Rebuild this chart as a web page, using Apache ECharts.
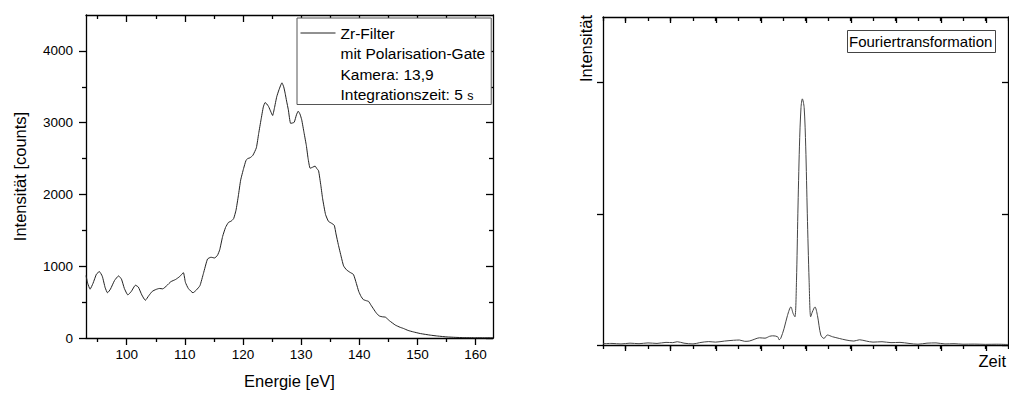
<!DOCTYPE html>
<html>
<head>
<meta charset="utf-8">
<script src="https://cdn.jsdelivr.net/npm/echarts@6/dist/echarts.min.js"></script>
<style>
  html, body { margin: 0; padding: 0; background: #fff; }
  #chart { width: 1009px; height: 394px; }
</style>
</head>
<body>
<div id="chart"></div>
<script>
// ---- Left panel: spectrum ----
const energy = [93.0, 93.3, 93.7, 94.2, 94.8, 95.3, 95.8, 96.3, 96.7, 97.2, 97.9, 98.6, 99.1, 99.6, 100.2, 100.8, 101.5, 102.0, 102.6, 103.2, 103.8, 104.4, 105.0, 105.6, 106.2, 106.9, 107.6, 108.4, 109.1, 109.75, 110.1, 110.6, 111.4, 112.0, 112.6, 113.2, 113.9, 114.5, 115.1, 115.6, 116.0, 116.5, 117.0, 117.5, 118.0, 118.4, 118.8, 119.2, 119.6, 120.1, 120.5, 120.8, 121.2, 121.7, 122.3, 122.7, 123.1, 123.5, 123.8, 124.1, 124.4, 124.8, 125.1, 125.4, 125.8, 126.2, 126.7, 127.0, 127.25, 127.5, 127.8, 128.2, 128.8, 129.2, 129.5, 129.8, 130.1, 130.5, 130.9, 131.2, 131.55, 132.0, 132.4, 132.7, 133.0, 133.4, 133.7, 134.2, 134.7, 135.2, 135.7, 136.0, 136.4, 136.9, 137.3, 137.8, 138.4, 139.0, 139.5, 139.9, 140.3, 140.7, 141.2, 141.6, 142.0, 142.45, 143.0, 143.5, 144.0, 144.5, 145.2, 146.2, 147.0, 147.6, 148.4, 149.3, 150.5, 152.2, 153.5, 155.1, 156.5, 158.0, 160.0, 161.5, 163.0];
const intensity = [870, 760, 680, 760, 890, 925, 860, 700, 630, 680, 800, 865, 820, 690, 600, 650, 735, 710, 600, 525, 590, 650, 675, 690, 685, 730, 785, 815, 855, 910, 775, 690, 630, 670, 730, 900, 1100, 1125, 1115, 1150, 1230, 1415, 1540, 1610, 1630, 1665, 1780, 1980, 2200, 2360, 2470, 2500, 2510, 2545, 2650, 2850, 3040, 3220, 3280, 3260, 3225, 3150, 3100, 3200, 3360, 3460, 3555, 3500, 3410, 3300, 3180, 2990, 3005, 3110, 3160, 3120, 3040, 2860, 2680, 2500, 2365, 2380, 2395, 2360, 2330, 2120, 1940, 1720, 1625, 1600, 1570, 1450, 1300, 1130, 1005, 950, 915, 885, 760, 650, 580, 535, 520, 510, 460, 405, 340, 305, 295, 290, 240, 180, 150, 133, 105, 85, 62, 40, 27, 15, 9, 5, 4, 3, 3];
const energyTicks = [100, 110, 120, 130, 140, 150, 160];
const countTicks = [0, 1000, 2000, 3000, 4000];
const legendLines = ['Zr-Filter', 'mit Polarisation-Gate', 'Kamera: 13,9', 'Integrationszeit: 5 s'];

// ---- Right panel: Fourier transform ----
const zeit = [0.0, 0.4, 0.8, 1.2, 1.6, 2.0, 2.4, 2.8, 3.1, 3.3, 3.6, 4.0, 4.3, 4.7, 5.0, 5.4, 5.8, 6.06, 6.3, 6.5, 6.75, 6.95, 7.2, 7.4, 7.54, 7.76, 7.83, 7.9, 8.05, 8.2, 8.35, 8.45, 8.53, 8.6, 8.66, 8.73, 8.8, 8.86, 8.94, 9.01, 9.08, 9.16, 9.23, 9.3, 9.42, 9.53, 9.68, 9.82, 9.97, 10.2, 10.5, 10.8, 11.15, 11.4, 11.7, 12.0, 12.4, 12.8, 13.2, 13.6, 14.0, 14.4, 14.8, 15.2, 15.6, 16.0, 16.5, 17.0, 17.5, 18.0];
const fourier = [0.010, 0.012, 0.008, 0.014, 0.010, 0.016, 0.012, 0.020, 0.018, 0.025, 0.014, 0.008, 0.018, 0.026, 0.022, 0.030, 0.036, 0.038, 0.028, 0.030, 0.045, 0.055, 0.052, 0.066, 0.070, 0.063, 0.040, 0.051, 0.127, 0.226, 0.290, 0.240, 0.215, 0.494, 1.000, 1.510, 1.810, 1.876, 1.810, 1.510, 1.000, 0.494, 0.215, 0.250, 0.290, 0.226, 0.076, 0.050, 0.076, 0.063, 0.050, 0.038, 0.030, 0.040, 0.030, 0.022, 0.025, 0.018, 0.020, 0.012, 0.006, 0.014, 0.016, 0.008, 0.010, 0.006, 0.007, 0.005, 0.006, 0.004];
const zeitMajorTicks = [1, 3, 5, 7, 9, 11, 13, 15, 17];
const fourierTicks = [0, 1, 2];
const fourierLabel = 'Fouriertransformation';

const FONT = 'Liberation Sans, Arial, Helvetica, sans-serif';
const AX = { color: '#000', width: 1.3 };

const chart = echarts.init(document.getElementById('chart'), null, { renderer: 'svg' });

const spectrumData = energy.map((e, i) => [e, intensity[i]]);
const fourierData = zeit.map((t, i) => [t, fourier[i]]);

function hiddenLabel() { return { show: false }; }
function plain(v) { return String(v); }

const option = {
  animation: false,
  backgroundColor: '#fff',
  textStyle: { fontFamily: FONT },
  title: {
    text: fourierLabel,
    left: 847, top: 30,
    padding: [4, 3, 4, 2],
    borderColor: '#444', borderWidth: 1,
    backgroundColor: '#fff',
    textStyle: { fontFamily: FONT, fontSize: 15, fontWeight: 'normal', color: '#000' }
  },
  legend: {
    orient: 'vertical',
    left: 297, top: 18,
    padding: [7, 6, 2, 3],
    itemWidth: 35, itemHeight: 14, itemGap: 4.5,
    borderColor: '#555', borderWidth: 1,
    backgroundColor: '#fff',
    selectedMode: false,
    lineStyle: { width: 1, color: '#222' },
    data: [
      { name: legendLines[0], itemStyle: { opacity: 0 } },
      { name: legendLines[1], icon: 'none' },
      { name: legendLines[2], icon: 'none' },
      { name: legendLines[3], icon: 'none' }
    ],
    formatter: function (name) {
      if (name === legendLines[3]) {
        return '{a|' + name.slice(0, -1) + '}{b|' + name.slice(-1) + '}';
      }
      return '{a|' + name + '}';
    },
    textStyle: {
      fontFamily: FONT, fontSize: 15.5, color: '#000',
      rich: {
        a: { fontFamily: FONT, fontSize: 15.5, color: '#000' },
        b: { fontFamily: FONT, fontSize: 12.5, color: '#000', verticalAlign: 'bottom' }
      }
    }
  },
  grid: [
    { left: 86, top: 15, width: 407, height: 328, containLabel: false },
    { left: 603, top: 17, width: 407, height: 328, containLabel: false },
    { left: 603, top: 17, width: 407, height: 328, containLabel: false }
  ],
  xAxis: [
    {
      gridIndex: 0, type: 'value', position: 'bottom', min: 93, max: 163,
      name: 'Energie [eV]', nameLocation: 'middle', nameGap: 34,
      nameTextStyle: { fontFamily: FONT, fontSize: 16.5, color: '#000' },
      axisLine: { show: true, onZero: false, lineStyle: AX },
      axisTick: { show: true, inside: false, length: 7, customValues: energyTicks, lineStyle: AX },
      minorTick: { show: true, splitNumber: 2, length: 4, lineStyle: AX },
      axisLabel: { customValues: energyTicks, formatter: plain, margin: 9, fontFamily: FONT, fontSize: 13.5, color: '#000' },
      splitLine: { show: false }
    },
    {
      gridIndex: 0, type: 'value', position: 'top', min: 93, max: 163,
      axisLine: { show: true, onZero: false, lineStyle: AX },
      axisTick: { show: true, inside: true, length: 7, customValues: energyTicks, lineStyle: AX },
      minorTick: { show: true, splitNumber: 2, length: 4, lineStyle: AX },
      axisLabel: hiddenLabel(),
      splitLine: { show: false }
    },
    {
      gridIndex: 1, type: 'value', position: 'bottom', min: 0, max: 18, interval: 1,
      name: 'Zeit', nameLocation: 'end', nameGap: -2,
      nameTextStyle: { fontFamily: FONT, fontSize: 16.5, color: '#000', align: 'right', verticalAlign: 'top', padding: [7, 0, 0, 0] },
      axisLine: { show: true, onZero: false, lineStyle: AX },
      axisTick: { show: true, inside: false, length: 4, lineStyle: AX },
      axisLabel: hiddenLabel(),
      splitLine: { show: false }
    },
    {
      gridIndex: 1, type: 'value', position: 'top', min: 0, max: 18, interval: 1,
      axisLine: { show: true, onZero: false, lineStyle: AX },
      axisTick: { show: true, inside: true, length: 4, lineStyle: AX },
      axisLabel: hiddenLabel(),
      splitLine: { show: false }
    },
    {
      gridIndex: 2, type: 'value', position: 'bottom', min: 0, max: 18,
      axisLine: { show: false },
      axisTick: { show: true, inside: false, length: 6, customValues: zeitMajorTicks, lineStyle: AX },
      axisLabel: hiddenLabel(),
      splitLine: { show: false }
    },
    {
      gridIndex: 2, type: 'value', position: 'top', min: 0, max: 18,
      axisLine: { show: false },
      axisTick: { show: true, inside: true, length: 6, customValues: zeitMajorTicks, lineStyle: AX },
      axisLabel: hiddenLabel(),
      splitLine: { show: false }
    }
  ],
  yAxis: [
    {
      gridIndex: 0, type: 'value', position: 'left', min: 0, max: 4500, interval: 1000,
      name: 'Intensität [counts]', nameLocation: 'middle', nameGap: 58,
      nameTextStyle: { fontFamily: FONT, fontSize: 16.5, color: '#000' },
      axisLine: { show: true, onZero: false, lineStyle: AX },
      axisTick: { show: true, inside: false, length: 7, customValues: countTicks, lineStyle: AX },
      minorTick: { show: true, splitNumber: 2, length: 4, lineStyle: AX },
      axisLabel: { customValues: countTicks, formatter: plain, margin: 13, fontFamily: FONT, fontSize: 13.5, color: '#000' },
      splitLine: { show: false }
    },
    {
      gridIndex: 0, type: 'value', position: 'right', min: 0, max: 4500, interval: 1000,
      axisLine: { show: true, onZero: false, lineStyle: AX },
      axisTick: { show: true, inside: true, length: 7, customValues: countTicks, lineStyle: AX },
      minorTick: { show: true, splitNumber: 2, length: 4, lineStyle: AX },
      axisLabel: hiddenLabel(),
      splitLine: { show: false }
    },
    {
      gridIndex: 1, type: 'value', position: 'left', min: 0, max: 2.5, interval: 1,
      name: 'Intensität', nameLocation: 'end', nameGap: 2, nameRotate: 90,
      nameTextStyle: { fontFamily: FONT, fontSize: 16.5, color: '#000', align: 'right', verticalAlign: 'bottom', padding: [0, 0, 9, 0] },
      axisLine: { show: true, onZero: false, lineStyle: AX },
      axisTick: { show: true, inside: false, length: 6, customValues: fourierTicks, lineStyle: AX },
      axisLabel: hiddenLabel(),
      splitLine: { show: false }
    },
    {
      gridIndex: 1, type: 'value', position: 'right', min: 0, max: 2.5, interval: 1,
      axisLine: { show: true, onZero: false, lineStyle: AX },
      axisTick: { show: true, inside: true, length: 6, customValues: fourierTicks, lineStyle: AX },
      axisLabel: hiddenLabel(),
      splitLine: { show: false }
    },
    {
      gridIndex: 2, type: 'value', min: 0, max: 2.5, show: false
    }
  ],
  series: [
    {
      name: legendLines[0], type: 'line', xAxisIndex: 0, yAxisIndex: 0,
      data: spectrumData, symbol: 'none', smooth: 0.15,
      lineStyle: { color: '#222', width: 1 }, itemStyle: { color: '#222', opacity: 0 }
    },
    { name: legendLines[1], type: 'scatter', xAxisIndex: 0, yAxisIndex: 0, data: [], itemStyle: { color: '#000' } },
    { name: legendLines[2], type: 'scatter', xAxisIndex: 0, yAxisIndex: 0, data: [], itemStyle: { color: '#000' } },
    { name: legendLines[3], type: 'scatter', xAxisIndex: 0, yAxisIndex: 0, data: [], itemStyle: { color: '#000' } },
    {
      name: fourierLabel, type: 'line', xAxisIndex: 2, yAxisIndex: 2,
      data: fourierData, symbol: 'none', smooth: 0.3,
      lineStyle: { color: '#444', width: 1 }
    }
  ]
};

chart.setOption(option);
</script>
</body>
</html>
